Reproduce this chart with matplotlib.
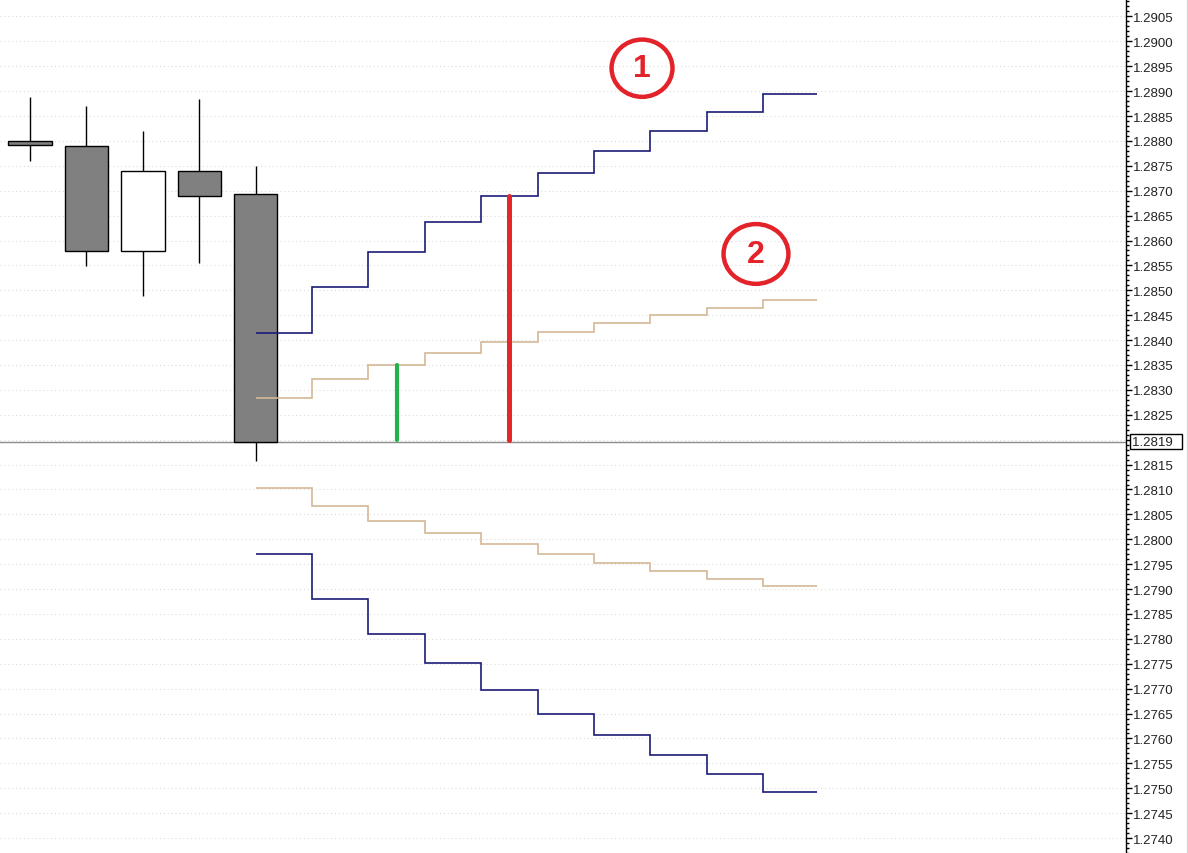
import numpy as np
import matplotlib
matplotlib.use("Agg")
import matplotlib.pyplot as plt
from matplotlib.patches import Ellipse
from matplotlib.ticker import MultipleLocator, FuncFormatter
from matplotlib.lines import Line2D

# ---------------- data ----------------
candle_idx = [0, 1, 2, 3, 4]
opens  = [1.28799, 1.28789, 1.28579, 1.28740, 1.28694]
closes = [1.28791, 1.28579, 1.28740, 1.28690, 1.28196]
highs  = [1.28889, 1.28870, 1.28819, 1.28885, 1.28750]
lows   = [1.28760, 1.28548, 1.28488, 1.28554, 1.28158]

step_edges = [4, 5, 6, 7, 8, 9, 10, 11, 12, 13, 13.95]
outer_upper = [1.28415, 1.28507, 1.28577, 1.28638, 1.28689,
               1.28736, 1.28780, 1.28820, 1.28859, 1.28894]
inner_upper = [1.28284, 1.28322, 1.28351, 1.28374, 1.28396,
               1.28416, 1.28434, 1.28451, 1.28465, 1.28480]
inner_lower = [1.28102, 1.28066, 1.28036, 1.28012, 1.27991,
               1.27971, 1.27953, 1.27937, 1.27921, 1.27907]
outer_lower = [1.27971, 1.27881, 1.27809, 1.27751, 1.27697,
               1.27650, 1.27607, 1.27566, 1.27528, 1.27493]

last_price = 1.28196
last_label = "1.2819"
green_x, green_top = 6.5, 1.28351
red_x, red_top = 8.5, 1.28689

y_min, y_max = 1.27370, 1.29085
x_min, x_max = -0.532, 19.43

# ---------------- figure ----------------
W, H, DPI = 1188, 854, 100
fig = plt.figure(figsize=(W / DPI, H / DPI), dpi=DPI)
ax = fig.add_axes([0, 0, 1126 / W, 1])
ax.set_xlim(x_min, x_max)
ax.set_ylim(y_min, y_max)

# grid
for lvl in np.arange(1.2740, 1.2910, 0.0005):
    ax.axhline(lvl, color="#dcdcdc", lw=0.8, ls=(0, (1, 2.5)), zorder=0)

# last price line
ax.axhline(last_price, color="#8c8c8c", lw=1.0, zorder=1)

# candles
body_w = 0.77
for i, o, c, h, l in zip(candle_idx, opens, closes, highs, lows):
    ax.vlines(i, l, h, color="black", lw=1.0, zorder=2)
    fc = "white" if c > o else "#808080"
    ax.bar(i, abs(c - o), bottom=min(o, c), width=body_w, color=fc,
           edgecolor="black", linewidth=1.0, zorder=3)

# step bands
ax.stairs(outer_upper, step_edges, baseline=None, color="#1b1b78", lw=1.2, zorder=4)
ax.stairs(outer_lower, step_edges, baseline=None, color="#1b1b78", lw=1.2, zorder=4)
ax.stairs(inner_upper, step_edges, baseline=None, color="#d4b896", lw=1.2, zorder=4)
ax.stairs(inner_lower, step_edges, baseline=None, color="#d4b896", lw=1.2, zorder=4)

# vertical measurement lines
ax.plot([green_x, green_x], [last_price + 0.00004, green_top], color="#22b14c",
        lw=3.0, solid_capstyle="round", zorder=5)
ax.plot([red_x, red_x], [last_price + 0.00004, red_top], color="#e5262b",
        lw=3.6, solid_capstyle="round", zorder=5)

# circled annotations
red = "#e3222a"
for (cx, cy, txt, ew, eh) in [(10.85, 1.28946, "1", 1.08, 0.00115),
                              (12.87, 1.28573, "2", 1.15, 0.00120)]:
    ax.add_patch(Ellipse((cx, cy), ew, eh, fill=False, ec=red, lw=3.2, zorder=6))
    ax.text(cx, cy, txt, color=red, fontsize=23, fontweight="bold",
            family="Liberation Sans", ha="center", va="center", zorder=6)

# axes styling
for s in ["left", "top", "bottom"]:
    ax.spines[s].set_visible(False)
ax.spines["right"].set_color("black")
ax.spines["right"].set_linewidth(1.0)
ax.set_xticks([])
ax.yaxis.tick_right()
ax.yaxis.set_major_locator(MultipleLocator(0.0005))
ax.yaxis.set_minor_locator(MultipleLocator(0.0001))

def fmt(v, pos):
    if abs(v - 1.2820) < 1e-6:
        return ""
    return f"{v:.4f}"

ax.yaxis.set_major_formatter(FuncFormatter(fmt))
ax.tick_params(axis="y", which="major", length=4, width=1, pad=1.0,
               labelsize=9.5, labelcolor="#222222")
ax.tick_params(axis="y", which="minor", length=2, width=1)
for lab in ax.get_yticklabels():
    lab.set_family("Liberation Sans")

ax.annotate(last_label + "  ", xy=(1, last_price), xycoords=("axes fraction", "data"),
            xytext=(6, 0), textcoords="offset pixels", ha="left", va="center",
            fontsize=9.5, family="Liberation Sans", color="#222222",
            bbox=dict(boxstyle="square,pad=0.12", fc="white", ec="black", lw=1.0),
            annotation_clip=False)

fig.add_artist(Line2D([1186.5 / W, 1186.5 / W], [0, 1], color="#d8d8d8", lw=1.0))

fig.savefig("out.png", dpi=DPI)
